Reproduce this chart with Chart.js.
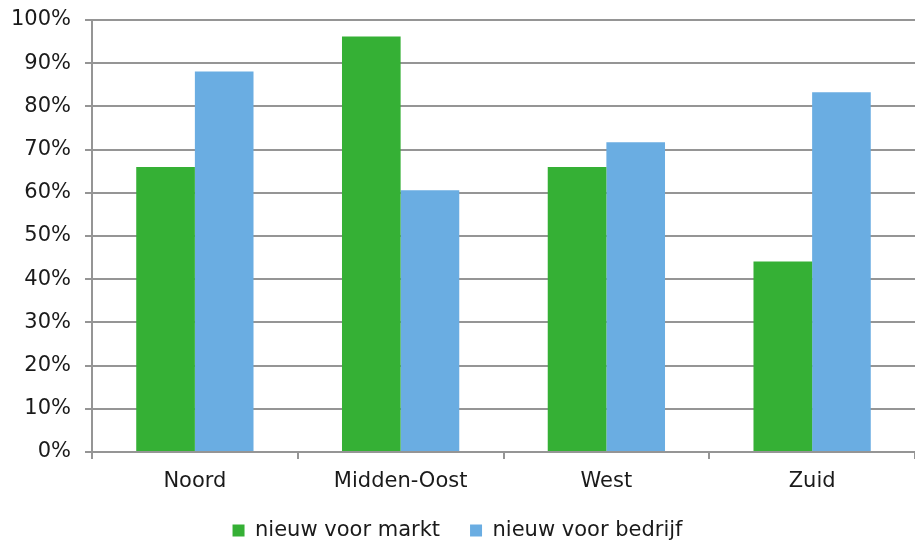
<!DOCTYPE html>
<html>
<head>
<meta charset="utf-8">
<script src="https://cdn.jsdelivr.net/npm/chart.js@4/dist/chart.umd.min.js"></script>
<style>
    html, body { margin: 0; padding: 0; background: #fff; }
    #wrap { width: 915px; height: 543px; position: relative; }
</style>
</head>
<body>
<div id="wrap"><canvas id="chart"></canvas></div>
<script>
// Gegevens per regio
const regions = ['Noord', 'Midden-Oost', 'West', 'Zuid'];
const nieuwVoorMarkt = [66, 96.2, 66, 44.1];
const nieuwVoorBedrijf = [88.1, 60.6, 71.7, 83.3];
const yTicks = [0, 10, 20, 30, 40, 50, 60, 70, 80, 90, 100];

const fontFamily = '"DejaVu Sans", Verdana, sans-serif';
const gridColor = '#959595';
const textColor = '#1a1a1a';

Chart.defaults.font.family = fontFamily;
Chart.defaults.color = textColor;

new Chart(document.getElementById('chart').getContext('2d'), {
    type: 'bar',
    data: {
        labels: regions,
        datasets: [
            {
                label: 'nieuw voor markt',
                data: nieuwVoorMarkt,
                backgroundColor: '#35b035',
                categoryPercentage: 0.57,
                barPercentage: 1
            },
            {
                label: 'nieuw voor bedrijf',
                data: nieuwVoorBedrijf,
                backgroundColor: '#6aade2',
                categoryPercentage: 0.57,
                barPercentage: 1
            }
        ]
    },
    options: {
        responsive: true,
        maintainAspectRatio: false,
        animation: false,
        layout: { padding: { top: 20, right: 0, bottom: -8, left: 0 } },
        plugins: {
            legend: {
                position: 'bottom',
                labels: {
                    boxWidth: 12,
                    boxHeight: 12,
                    padding: 30,
                    font: { size: 21 },
                    color: textColor
                }
            },
            tooltip: { enabled: false }
        },
        scales: {
            x: {
                grid: {
                    display: true,
                    drawOnChartArea: false,
                    drawTicks: true,
                    tickLength: 7,
                    color: gridColor,
                    lineWidth: 2
                },
                border: { color: gridColor, width: 2 },
                ticks: { font: { size: 21 }, padding: 10, color: textColor, autoSkip: false },
                afterFit: function(scale) { scale.height = 38; }
            },
            y: {
                min: 0,
                max: 100,
                afterBuildTicks: function(scale) {
                    scale.ticks = yTicks.map(v => ({ value: v }));
                },
                grid: {
                    color: gridColor,
                    lineWidth: 2,
                    tickLength: 7
                },
                border: { color: gridColor, width: 2 },
                ticks: {
                    font: { size: 21 },
                    padding: 14,
                    color: textColor,
                    callback: function(value) { return value + '%'; }
                },
                afterFit: function(scale) {
                    scale.width = 92;
                    scale.paddingTop = 0;
                    scale.paddingBottom = 0;
                }
            }
        }
    }
});
</script>
</body>
</html>
